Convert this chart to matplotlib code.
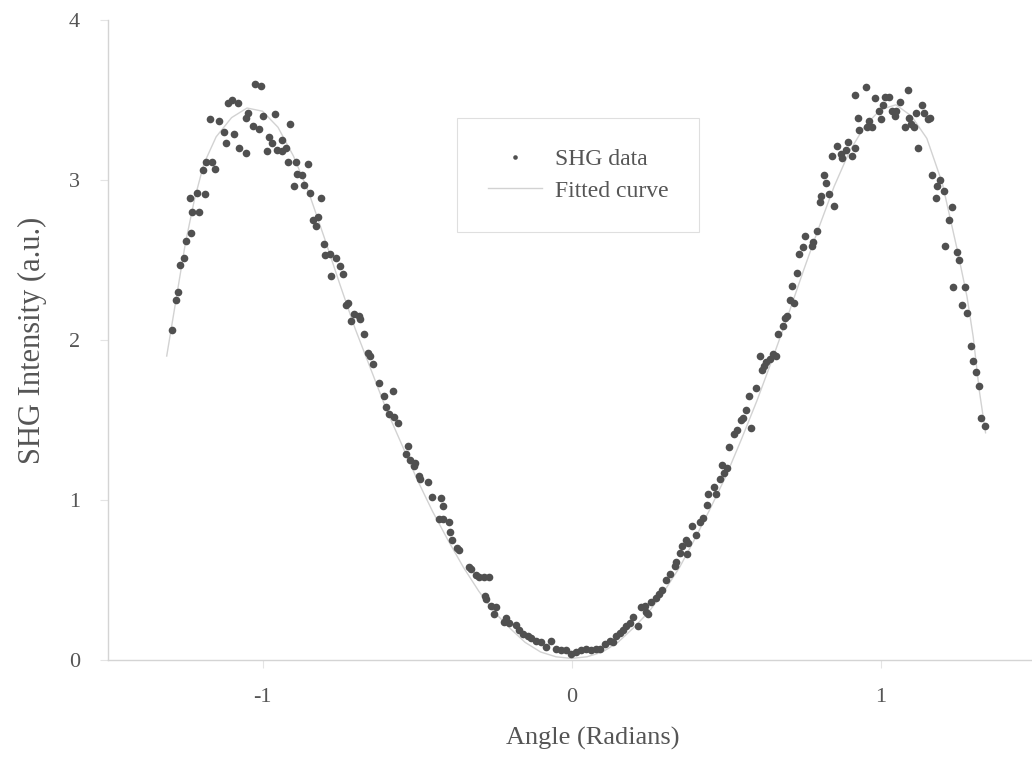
import matplotlib.pyplot as plt

# SHG data points (angle in radians, intensity in a.u.)
angle = [
    -1.294, -1.281, -1.273, -1.267, -1.255, -1.249, -1.236, -1.231, -1.228, -1.211,
    -1.206, -1.193, -1.187, -1.182, -1.169, -1.165, -1.155, -1.141, -1.124, -1.119,
    -1.113, -1.100, -1.093, -1.079, -1.076, -1.054, -1.053, -1.048, -1.031, -1.024,
    -1.011, -1.005, -0.997, -0.984, -0.979, -0.968, -0.960, -0.952, -0.938, -0.936,
    -0.925, -0.916, -0.910, -0.898, -0.892, -0.887, -0.871, -0.865, -0.853, -0.847,
    -0.835, -0.828, -0.819, -0.811, -0.802, -0.797, -0.781, -0.777, -0.761, -0.750,
    -0.739, -0.730, -0.723, -0.712, -0.704, -0.689, -0.685, -0.670, -0.660, -0.651,
    -0.642, -0.622, -0.608, -0.599, -0.592, -0.579, -0.574, -0.563, -0.536, -0.528,
    -0.522, -0.511, -0.507, -0.493, -0.489, -0.464, -0.452, -0.430, -0.422, -0.417,
    -0.415, -0.395, -0.392, -0.388, -0.372, -0.365, -0.333, -0.325, -0.309, -0.298,
    -0.282, -0.279, -0.276, -0.268, -0.260, -0.250, -0.244, -0.220, -0.212, -0.201,
    -0.179, -0.169, -0.156, -0.142, -0.131, -0.114, -0.098, -0.082, -0.066, -0.050,
    -0.033, -0.017, -0.001, 0.015, 0.031, 0.048, 0.064, 0.080, 0.091, 0.107,
    0.123, 0.134, 0.145, 0.156, 0.166, 0.177, 0.188, 0.199, 0.215, 0.226,
    0.237, 0.240, 0.247, 0.258, 0.272, 0.283, 0.294, 0.305, 0.318, 0.334,
    0.337, 0.350, 0.359, 0.370, 0.374, 0.377, 0.391, 0.404, 0.415, 0.424,
    0.437, 0.442, 0.460, 0.469, 0.480, 0.488, 0.493, 0.503, 0.510, 0.526,
    0.536, 0.550, 0.555, 0.564, 0.575, 0.580, 0.596, 0.609, 0.618, 0.622,
    0.629, 0.642, 0.653, 0.661, 0.669, 0.683, 0.690, 0.696, 0.707, 0.713,
    0.721, 0.730, 0.737, 0.750, 0.756, 0.778, 0.782, 0.795, 0.804, 0.809,
    0.817, 0.823, 0.834, 0.843, 0.849, 0.860, 0.871, 0.877, 0.888, 0.896,
    0.907, 0.917, 0.918, 0.926, 0.931, 0.952, 0.955, 0.963, 0.973, 0.982,
    0.996, 1.002, 1.007, 1.015, 1.028, 1.036, 1.047, 1.050, 1.063, 1.079,
    1.090, 1.092, 1.098, 1.110, 1.115, 1.121, 1.134, 1.141, 1.155, 1.160,
    1.167, 1.179, 1.184, 1.191, 1.204, 1.210, 1.223, 1.231, 1.236, 1.247,
    1.254, 1.265, 1.274, 1.280, 1.293, 1.299, 1.309, 1.319, 1.325, 1.339,
]
intensity = [
    2.06, 2.25, 2.30, 2.47, 2.51, 2.62, 2.89, 2.67, 2.80, 2.92,
    2.80, 3.06, 2.91, 3.11, 3.38, 3.11, 3.07, 3.37, 3.30, 3.23,
    3.48, 3.50, 3.29, 3.48, 3.20, 3.17, 3.39, 3.42, 3.34, 3.60,
    3.32, 3.59, 3.40, 3.18, 3.27, 3.23, 3.41, 3.19, 3.18, 3.25,
    3.20, 3.11, 3.35, 2.96, 3.11, 3.04, 3.03, 2.97, 3.10, 2.92,
    2.75, 2.71, 2.77, 2.89, 2.60, 2.53, 2.54, 2.40, 2.51, 2.46,
    2.41, 2.22, 2.23, 2.12, 2.16, 2.15, 2.13, 2.04, 1.92, 1.90,
    1.85, 1.73, 1.65, 1.58, 1.54, 1.68, 1.52, 1.48, 1.29, 1.34,
    1.25, 1.21, 1.23, 1.15, 1.13, 1.11, 1.02, 0.88, 1.01, 0.88,
    0.96, 0.86, 0.80, 0.75, 0.70, 0.69, 0.58, 0.57, 0.53, 0.52,
    0.52, 0.40, 0.38, 0.52, 0.34, 0.29, 0.33, 0.24, 0.26, 0.23,
    0.22, 0.19, 0.16, 0.15, 0.14, 0.12, 0.11, 0.08, 0.12, 0.07,
    0.06, 0.06, 0.04, 0.05, 0.06, 0.07, 0.06, 0.07, 0.07, 0.10,
    0.12, 0.11, 0.15, 0.17, 0.19, 0.21, 0.23, 0.27, 0.21, 0.33,
    0.34, 0.30, 0.29, 0.36, 0.39, 0.41, 0.44, 0.50, 0.54, 0.59,
    0.61, 0.67, 0.71, 0.75, 0.66, 0.73, 0.84, 0.78, 0.86, 0.89,
    0.97, 1.04, 1.08, 1.04, 1.13, 1.22, 1.17, 1.20, 1.33, 1.41,
    1.44, 1.50, 1.51, 1.56, 1.65, 1.45, 1.70, 1.90, 1.81, 1.84,
    1.86, 1.88, 1.91, 1.90, 2.04, 2.09, 2.14, 2.15, 2.25, 2.34,
    2.23, 2.42, 2.54, 2.58, 2.65, 2.59, 2.61, 2.68, 2.86, 2.90,
    3.03, 2.98, 2.91, 3.15, 2.84, 3.21, 3.16, 3.14, 3.19, 3.24,
    3.15, 3.20, 3.53, 3.39, 3.31, 3.58, 3.33, 3.37, 3.33, 3.51,
    3.43, 3.38, 3.47, 3.52, 3.52, 3.43, 3.40, 3.43, 3.49, 3.33,
    3.56, 3.39, 3.35, 3.33, 3.42, 3.20, 3.47, 3.42, 3.38, 3.39,
    3.03, 2.89, 2.96, 3.00, 2.93, 2.59, 2.75, 2.83, 2.33, 2.55,
    2.50, 2.22, 2.33, 2.17, 1.96, 1.87, 1.80, 1.71, 1.51, 1.46,
]

# Fitted curve
fit_angle = [
    -1.31, -1.28, -1.25, -1.22, -1.19, -1.15, -1.10, -1.05, -1.00, -0.95,
    -0.90, -0.85, -0.80, -0.75, -0.70, -0.65, -0.60, -0.55, -0.50, -0.45,
    -0.40, -0.35, -0.30, -0.25, -0.20, -0.15, -0.10, -0.05, 0.00, 0.05,
    0.10, 0.15, 0.20, 0.25, 0.30, 0.35, 0.40, 0.45, 0.50, 0.55,
    0.60, 0.65, 0.70, 0.75, 0.80, 0.85, 0.90, 0.95, 1.00, 1.05,
    1.10, 1.15, 1.20, 1.25, 1.28, 1.30, 1.32, 1.34,
]
fit_intensity = [
    1.90, 2.25, 2.60, 2.88, 3.10, 3.27, 3.39, 3.45, 3.43, 3.33,
    3.15, 2.92, 2.64, 2.35, 2.07, 1.82, 1.57, 1.35, 1.13, 0.93,
    0.75, 0.58, 0.43, 0.30, 0.20, 0.11, 0.05, 0.02, 0.01, 0.02,
    0.05, 0.11, 0.20, 0.30, 0.43, 0.58, 0.76, 0.95, 1.15, 1.38,
    1.62, 1.88, 2.15, 2.43, 2.70, 2.96, 3.18, 3.34, 3.44, 3.47,
    3.40, 3.26, 2.98, 2.55, 2.27, 2.02, 1.68, 1.42,
]

plt.rcParams['font.family'] = ['Liberation Serif', 'DejaVu Serif']
plt.rcParams['axes.unicode_minus'] = False

fig = plt.figure(figsize=(10.32, 7.77), dpi=100)
ax = fig.add_axes([108 / 1032, 117 / 777, 927 / 1032, 640 / 777])

ax.plot(angle, intensity, 'o', color='#505050', markersize=5.5, markeredgewidth=0,
        label='SHG data', zorder=3)
ax.plot(fit_angle, fit_intensity, '-', color='#d2d2d2', linewidth=1.0,
        label='Fitted curve', zorder=2)

ax.set_xlim(-1.5, 1.5)
ax.set_ylim(0, 4)
ax.set_xticks([-1, 0, 1])
ax.set_yticks([0, 1, 2, 3, 4])

for side in ['top', 'right']:
    ax.spines[side].set_visible(False)
for side in ['left', 'bottom']:
    ax.spines[side].set_color('#d4d4d4')
    ax.spines[side].set_linewidth(1.0)

ax.tick_params(axis='both', direction='out', length=6, width=0.8, color='#e4e4e4',
               labelsize=16, labelcolor='#555555')
ax.tick_params(axis='x', pad=14)
ax.tick_params(axis='y', pad=14)

ax.set_xlabel('Angle (Radians)', fontsize=19, color='#555555')
ax.set_ylabel('SHG Intensity (a.u.)', fontsize=22, color='#555555')
ax.xaxis.set_label_coords(0.523, -0.105)
ax.yaxis.set_label_coords(-0.066, 0.5)

leg = ax.legend(loc='upper left', bbox_to_anchor=(0.3765, 0.847), borderaxespad=0,
                fontsize=17, frameon=True, fancybox=False, edgecolor='#d8d8d8',
                labelspacing=0.42, borderpad=1.3, handlelength=2.3,
                handletextpad=0.55, markerscale=0.6)
leg.get_frame().set_linewidth(0.8)
for t in leg.get_texts():
    t.set_color('#555555')

fig.savefig('out.png', dpi=100)
